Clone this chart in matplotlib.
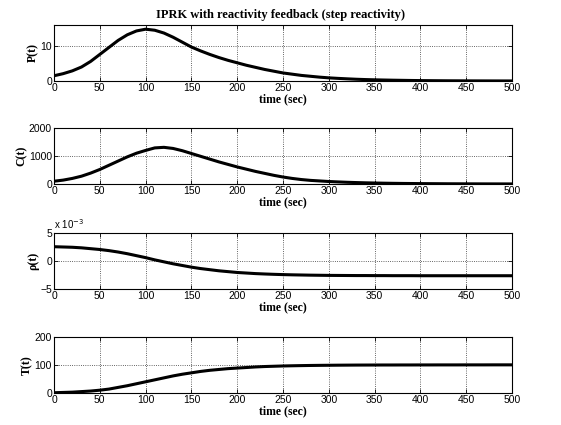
import matplotlib.pyplot as plt

# time in seconds, sampled every 10 s
time = list(range(0, 510, 10))

power = [1.5, 2.1, 2.9, 4.0, 5.6, 7.6, 9.6, 11.6, 13.2, 14.3,
         14.8, 14.5, 13.7, 12.5, 11.1, 9.7, 8.6, 7.6, 6.7, 5.9,
         5.2, 4.5, 3.9, 3.3, 2.8, 2.3, 1.95, 1.6, 1.35, 1.1,
         0.9, 0.75, 0.62, 0.5, 0.41, 0.34, 0.28, 0.23, 0.19, 0.15,
         0.12, 0.1, 0.08, 0.065, 0.055, 0.045, 0.037, 0.03, 0.025, 0.02, 0.016]

precursor = [100, 140, 200, 280, 390, 520, 670, 820, 970, 1100,
             1200, 1290, 1310, 1270, 1190, 1090, 990, 890, 790, 700,
             610, 530, 450, 380, 310, 250, 200, 160, 130, 110,
             90, 75, 62, 52, 43, 36, 30, 25, 21, 18,
             15, 13, 11, 9, 8, 7, 6, 5, 4.5, 4, 3.5]

# reactivity in units of 1e-3
rho = [2.55, 2.5, 2.45, 2.35, 2.2, 2.05, 1.85, 1.6, 1.3, 0.95,
       0.6, 0.2, -0.15, -0.5, -0.8, -1.1, -1.35, -1.55, -1.75, -1.9,
       -2.05, -2.15, -2.25, -2.32, -2.38, -2.43, -2.47, -2.5, -2.53, -2.55,
       -2.57, -2.58, -2.59, -2.6, -2.6, -2.61, -2.61, -2.62, -2.62, -2.62,
       -2.63, -2.63, -2.63, -2.63, -2.63, -2.63, -2.63, -2.63, -2.63, -2.63, -2.63]

temperature = [1, 2, 3, 5, 7, 10, 14, 20, 26, 33,
               40, 47, 54, 61, 67, 72, 77, 81, 84, 87,
               89, 91, 93, 94.5, 95.5, 96.5, 97.2, 97.8, 98.3, 98.7,
               99, 99.3, 99.5, 99.7, 99.8, 99.9, 100, 100, 100.1, 100.1,
               100.2, 100.2, 100.3, 100.3, 100.3, 100.4, 100.4, 100.4, 100.5, 100.5, 100.5]

series = [
    (power, "P(t)", (0, 16), [0, 10]),
    (precursor, "C(t)", (0, 2000), [0, 1000, 2000]),
    (rho, "\u03c1(t)", (-5, 5), [-5, 0, 5]),
    (temperature, "T(t)", (0, 200), [0, 100, 200]),
]

tick_font = {"family": "Liberation Sans", "size": 7.5}
label_font = {"family": "Liberation Serif", "weight": "bold", "size": 8.5}

fig = plt.figure(figsize=(5.61, 4.25), dpi=100)
bottoms = [0.8094, 0.567, 0.32, 0.0753]

for (vals, ylab, ylim, yticks), b in zip(series, bottoms):
    ax = fig.add_axes([0.0963, b, 0.8164, 0.1318])
    ax.plot(time, vals, color="black", linewidth=2.2)
    ax.set_xlim(0, 500)
    ax.set_ylim(*ylim)
    ax.set_xticks(range(0, 501, 50))
    ax.set_yticks(yticks)
    ax.set_xticklabels([str(t) for t in range(0, 501, 50)], fontdict=tick_font)
    ax.set_yticklabels([str(t).replace("-", "\u2212") for t in yticks], fontdict=tick_font)
    ax.tick_params(direction="in", length=3, width=0.6, top=True, right=True, pad=1.5)
    ax.grid(True, linestyle=":", color="black", linewidth=0.6, alpha=0.8)
    for s in ax.spines.values():
        s.set_linewidth(0.8)
    ax.set_xlabel("time (sec)", fontdict=label_font, labelpad=0)
    ax.set_ylabel(ylab, fontdict=label_font, labelpad=1)
    if ylab.startswith("\u03c1"):
        ax.text(0, 1.04, "x 10$^{-3}$", transform=ax.transAxes, fontsize=7,
                family="Liberation Sans", va="bottom", ha="left")

fig.text(0.5, 0.965, "IPRK with reactivity feedback (step reactivity)",
         ha="center", va="center", family="Liberation Serif", weight="bold", size=9)

fig.savefig("out.png", dpi=100)
